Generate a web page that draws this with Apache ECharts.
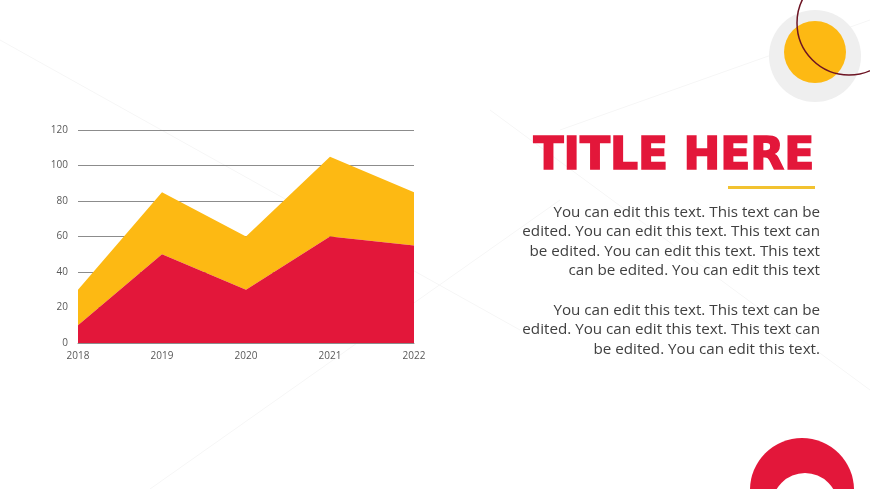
<!DOCTYPE html>
<html>
<head>
<meta charset="utf-8">
<title>Title Here</title>
<script src="https://cdn.jsdelivr.net/npm/echarts@6/dist/echarts.min.js"></script>
<style>
    html, body { margin: 0; padding: 0; background: #ffffff; }
    #chart { width: 870px; height: 489px; }
</style>
</head>
<body>
<div id="chart"></div>
<script>
// 数据
const years = ['2018', '2019', '2020', '2021', '2022'];
const redValues = [10, 50, 30, 60, 55];
const yellowValues = [20, 35, 30, 45, 30];   // 叠加在红色之上
const yTicks = [0, 20, 40, 60, 80, 100, 120];

const titleText = 'TITLE HERE';
const para1 = [
    'You can edit this text. This text can be',
    'edited. You can edit this text. This text can',
    'be edited. You can edit this text. This text',
    'can be edited. You can edit this text'
];
const para2 = [
    'You can edit this text. This text can be',
    'edited. You can edit this text. This text can',
    'be edited. You can edit this text.'
];

// 颜色
const RED = '#e3173a';
const YELLOW = '#fdb913';

const chart = echarts.init(document.getElementById('chart'));

// 右侧文字
function textLines(lines, startY) {
    return lines.map((line, i) => ({
        type: 'text',
        right: 50,
        top: startY + i * 19.5,
        style: {
            text: line,
            fill: '#404040',
            font: '15.2px "Open Sans", sans-serif',
            textAlign: 'right'
        }
    }));
}

const option = {
    backgroundColor: '#ffffff',
    animation: false,
    grid: {
        left: 78,
        right: 456,
        top: 130,
        bottom: 146
    },
    xAxis: {
        type: 'category',
        data: years,
        boundaryGap: false,
        axisLine: { show: true, lineStyle: { color: '#8c8c8c', width: 1 } },
        axisTick: { show: false },
        axisLabel: { color: '#595959', fontSize: 10, margin: 8, fontFamily: 'Open Sans' }
    },
    yAxis: {
        type: 'value',
        min: yTicks[0],
        max: yTicks[yTicks.length - 1],
        interval: 20,
        axisLine: { show: false },
        axisTick: { show: false },
        splitLine: { lineStyle: { color: '#8c8c8c', width: 1 } },
        axisLabel: { color: '#595959', fontSize: 10, margin: 10, fontFamily: 'Open Sans' }
    },
    series: [
        {
            name: 'Series 1',
            type: 'line',
            stack: 'total',
            data: redValues,
            symbol: 'none',
            lineStyle: { width: 0 },
            areaStyle: { color: RED, opacity: 1 },
            z: 3
        },
        {
            name: 'Series 2',
            type: 'line',
            stack: 'total',
            data: yellowValues,
            symbol: 'none',
            lineStyle: { width: 0 },
            areaStyle: { color: YELLOW, opacity: 1 },
            z: 2
        }
    ],
    graphic: [
        // 背景淡线
        { type: 'line', silent: true, z: -10, shape: { x1: 0, y1: 40, x2: 520, y2: 330 }, style: { stroke: '#f6f6f6', lineWidth: 1 } },
        { type: 'line', silent: true, z: -10, shape: { x1: 490, y1: 110, x2: 870, y2: 390 }, style: { stroke: '#f6f6f6', lineWidth: 1 } },
        { type: 'line', silent: true, z: -10, shape: { x1: 150, y1: 489, x2: 560, y2: 200 }, style: { stroke: '#f6f6f6', lineWidth: 1 } },
        { type: 'line', silent: true, z: -10, shape: { x1: 560, y1: 130, x2: 870, y2: 20 }, style: { stroke: '#f6f6f6', lineWidth: 1 } },
        // 右上角装饰
        { type: 'circle', silent: true, shape: { cx: 815, cy: 56, r: 46 }, style: { fill: '#efefef' } },
        { type: 'circle', silent: true, shape: { cx: 815, cy: 52, r: 31 }, style: { fill: YELLOW } },
        { type: 'circle', silent: true, shape: { cx: 849, cy: 23, r: 52 }, style: { fill: 'none', stroke: '#6d1423', lineWidth: 1.5 } },
        // 右下角红色圆环
        { type: 'circle', silent: true, shape: { cx: 802, cy: 490, r: 52 }, style: { fill: RED } },
        { type: 'circle', silent: true, shape: { cx: 805, cy: 506, r: 33 }, style: { fill: '#ffffff' } },
        // 标题
        {
            type: 'text',
            right: 55,
            top: 135,
            style: {
                text: titleText,
                fill: RED,
                stroke: RED,
                lineWidth: 1.6,
                font: 'bold 44px "DejaVu Sans", sans-serif',
                textAlign: 'right'
            }
        },
        { type: 'rect', silent: true, shape: { x: 728, y: 186, width: 87, height: 3 }, style: { fill: '#f2c230' } }
    ]
        .concat(textLines(para1, 205))
        .concat(textLines(para2, 303))
};

chart.setOption(option);
</script>
</body>
</html>
